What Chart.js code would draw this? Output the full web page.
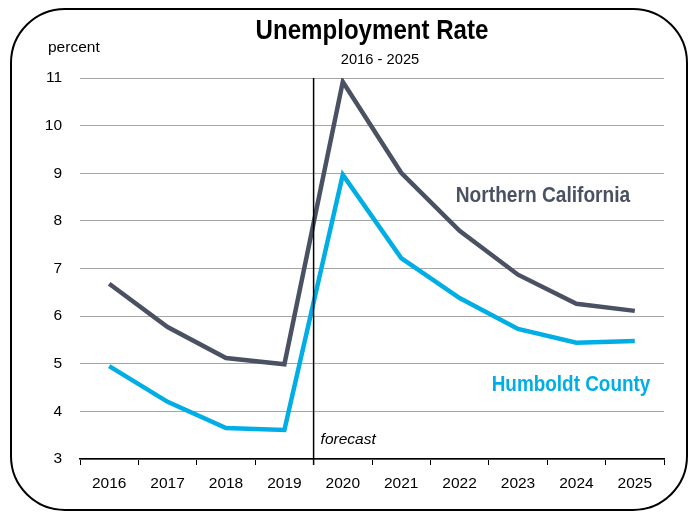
<!DOCTYPE html>
<html>
<head>
<meta charset="utf-8">
<script src="https://cdn.jsdelivr.net/npm/chart.js@4"></script>
<style>
  html, body { margin: 0; padding: 0; background: #fff; }
  #wrap { position: relative; width: 692px; height: 514px; overflow: hidden; }
  #frame {
    position: absolute; left: 10px; top: 8px; width: 678px; height: 503px;
    border: 2px solid #000; border-radius: 55px; box-sizing: border-box;
  }
  canvas { position: absolute; left: 0; top: 0; }
</style>
</head>
<body>
<div id="wrap">
  <div id="frame"></div>
  <canvas id="my-chart" width="692" height="514"></canvas>
</div>
<script>
'use strict';

// *************** DATA
let years = ['2016', '2017', '2018', '2019', '2020', '2021', '2022', '2023', '2024', '2025'];
let norCal = [6.68, 5.77, 5.12, 4.99, 10.92, 9.01, 7.79, 6.87, 6.26, 6.11];
let humboldt = [4.95, 4.20, 3.65, 3.61, 8.97, 7.22, 6.38, 5.73, 5.44, 5.48];
let yTicks = [3, 4, 5, 6, 7, 8, 9, 10, 11];

const FONT = "'Liberation Sans Narrow', 'Arial Narrow', 'Liberation Sans', sans-serif";
const GRAY = '#4a5162';
const BLUE = '#00aee6';

// squeeze text horizontally a bit, the original uses a narrow face
function narrowText(ctx, text, x, y, font, sx, align) {
  ctx.save();
  ctx.font = font;
  ctx.textAlign = align || 'center';
  ctx.translate(x, y);
  ctx.scale(sx, 1);
  ctx.fillText(text, 0, 0);
  ctx.restore();
}

// *************** EXTRA DRAWING (forecast line + texts)
let overlay = {
  id: 'overlay',
  afterDatasetsDraw(chart) {
    let ctx = chart.ctx;
    let x = chart.scales.x;
    let y = chart.scales.y;
    let fx = x.getPixelForValue(3.5);

    ctx.save();
    ctx.strokeStyle = '#000';
    ctx.lineWidth = 1.5;
    ctx.beginPath();
    ctx.moveTo(fx, y.getPixelForValue(11));
    ctx.lineTo(fx, y.getPixelForValue(3) + 6);
    ctx.stroke();

    ctx.fillStyle = '#000';
    ctx.textBaseline = 'middle';
    narrowText(ctx, 'Unemployment Rate', 372, 31, 'bold 28px ' + FONT, 0.86);
    narrowText(ctx, '2016 - 2025', 380, 60, '15px ' + FONT, 0.98);
    narrowText(ctx, 'percent', 48, 48, '15.5px ' + FONT, 1, 'left');
    narrowText(ctx, 'forecast', fx + 7, 440, 'italic 15.5px ' + FONT, 1, 'left');

    ctx.fillStyle = GRAY;
    narrowText(ctx, 'Northern California', 543, 196, 'bold 22px ' + FONT, 0.87);
    ctx.fillStyle = BLUE;
    narrowText(ctx, 'Humboldt County', 571, 385, 'bold 22px ' + FONT, 0.86);
    ctx.restore();
  }
};

let chartObj = {
  type: 'line',
  data: {
    labels: years,
    datasets: [{
      label: 'Northern California',
      data: norCal,
      borderColor: GRAY,
      borderWidth: 4.5,
      pointRadius: 0,
      tension: 0
    },
    {
      label: 'Humboldt County',
      data: humboldt,
      borderColor: BLUE,
      borderWidth: 4.5,
      pointRadius: 0,
      tension: 0
    }]
  },
  options: {
    responsive: false,
    animation: false,
    layout: { padding: { top: 78, right: 28, bottom: 12, left: 0 } },
    plugins: {
      legend: { display: false },
      tooltip: { enabled: false }
    },
    scales: {
      x: {
        offset: true,
        grid: { offset: true, drawOnChartArea: false, tickLength: 6, color: '#000', lineWidth: 1 },
        border: { display: true, color: '#000', width: 1.5 },
        ticks: { color: '#000', font: { family: FONT, size: 15.5 }, padding: 9, maxRotation: 0 },
        afterFit(scale) { scale.height = 43; }
      },
      y: {
        min: 3,
        max: 11,
        afterBuildTicks(scale) { scale.ticks = yTicks.map(v => ({ value: v })); },
        grid: { color: '#a6a6a6', lineWidth: 1, drawTicks: false },
        border: { display: false },
        ticks: { color: '#000', font: { family: FONT, size: 15.5 }, padding: 18 },
        afterFit(scale) { scale.width = 80; }
      }
    }
  },
  plugins: [overlay]
};

let ctx = document.getElementById('my-chart').getContext('2d');
let myChart = new Chart(ctx, chartObj);
</script>
</body>
</html>
